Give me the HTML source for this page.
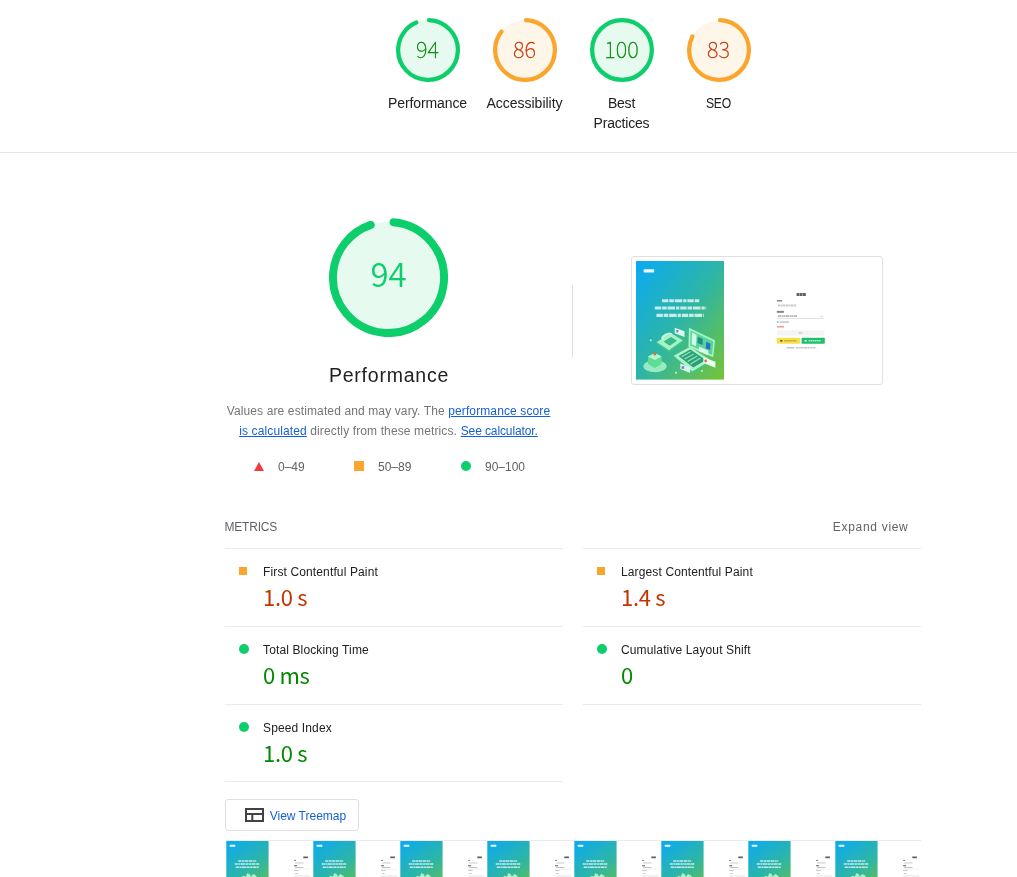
<!DOCTYPE html>
<html lang="en">
<head>
<meta charset="utf-8">
<title>Lighthouse Report</title>
<style>
*{box-sizing:border-box}
html,body{margin:0;padding:0;background:#fff}
body{width:1017px;height:877px;position:relative;overflow:hidden;font-family:"Liberation Sans","Noto Sans CJK KR",sans-serif;color:#212121;-webkit-font-smoothing:antialiased}
a{color:#1560d2;text-decoration:underline}
.abs{position:absolute;white-space:nowrap}
/* header gauges */
.scores{position:absolute;left:0;top:0;width:1017px;height:153px;border-bottom:1px solid #e4e4e4}
.g{position:absolute;top:18px;width:97px;text-align:center}
.g svg{display:block;margin:0 auto;width:64px;height:64px}
.g .num{position:absolute;left:0;top:-2px;width:97px;height:64px;line-height:64px;text-align:center;font-family:"Noto Sans CJK KR","DejaVu Sans Light",sans-serif;font-weight:100;font-size:22px;-webkit-text-stroke:.3px currentColor}
.g .lab{margin-top:11px;font-size:14px;line-height:20px;color:#212121;letter-spacing:-.2px}
.pass{color:#080}.avg{color:#c33300}
/* big gauge */
.big{position:absolute;left:329px;top:218px;width:119px;height:119px}
.big svg{display:block;width:119px;height:119px}
.big .num{position:absolute;left:0;top:0;width:119px;height:119px;line-height:111px;text-align:center;font-family:"Noto Sans CJK KR","DejaVu Sans Light",sans-serif;font-weight:350;font-size:33px;color:#0cce6b}
.title{left:229px;width:320px;top:361px;text-align:center;font-size:19.5px;line-height:28px;letter-spacing:.77px}
.desc{left:208.5px;width:360px;top:401px;text-align:center;font-size:12px;line-height:20px;color:#757575;white-space:normal;letter-spacing:.12px}
.legend{top:457.5px;font-size:12px;line-height:18px;color:#616161}
.sq{position:absolute;background:#fba52d}
.dot{position:absolute;background:#0cce6b;border-radius:50%}
.tri{position:absolute;width:0;height:0;border-left:5px solid transparent;border-right:5px solid transparent;border-bottom:9px solid #f03c3c}
.vline{position:absolute;left:572px;top:285px;width:1px;height:72px;background:#e0e0e0}
/* screenshot */
.shot{position:absolute;left:631px;top:256px;width:252px;height:129px;border:1px solid #e0e0e0;border-radius:3px;padding:4px;background:#fff}
.hr{position:absolute;height:1px;background:#ebebeb}
.mt{font-size:12px;line-height:18px;color:#212121;letter-spacing:.13px}
.mv{font-family:"Noto Sans CJK KR","Liberation Sans",sans-serif;font-size:22px;line-height:28px;letter-spacing:-.3px}
.btn{position:absolute;left:225px;top:799px;width:134px;height:32px;border:1px solid #e0e0e0;border-radius:3px;background:#fff}
.film{position:absolute;left:225.8px;top:840px;width:695px;height:37px;overflow:hidden;border-top:1px solid #ebebeb}
.film .f{position:absolute;top:0;width:87.1px;height:37px;background:#fff;overflow:hidden}

</style>
</head>
<body>
<div class="scores">
  <div class="g" style="left:379px">
    <svg viewBox="0 0 120 120"><circle cx="60" cy="60" r="56" fill="#0cce6b" fill-opacity=".1"/><circle cx="60" cy="60" r="56" fill="none" stroke="#0cce6b" stroke-width="8" stroke-linecap="round" stroke-dasharray="326.7 351.86" transform="rotate(-87.95 60 60)"/></svg>
    <div class="num pass">94</div><div class="lab" style="letter-spacing:-.1px">Performance</div>
  </div>
  <div class="g" style="left:476px">
    <svg viewBox="0 0 120 120"><circle cx="60" cy="60" r="56" fill="#fba52d" fill-opacity=".1"/><circle cx="60" cy="60" r="56" fill="none" stroke="#fba52d" stroke-width="8" stroke-linecap="round" stroke-dasharray="298.6 351.86" transform="rotate(-87.95 60 60)"/></svg>
    <div class="num avg">86</div><div class="lab" style="letter-spacing:0">Accessibility</div>
  </div>
  <div class="g" style="left:573px">
    <svg viewBox="0 0 120 120"><circle cx="60" cy="60" r="56" fill="#0cce6b" fill-opacity=".1"/><circle cx="60" cy="60" r="56" fill="none" stroke="#0cce6b" stroke-width="8"/></svg>
    <div class="num pass">100</div><div class="lab">Best<br>Practices</div>
  </div>
  <div class="g" style="left:670px">
    <svg viewBox="0 0 120 120"><circle cx="60" cy="60" r="56" fill="#fba52d" fill-opacity=".1"/><circle cx="60" cy="60" r="56" fill="none" stroke="#fba52d" stroke-width="8" stroke-linecap="round" stroke-dasharray="288 351.86" transform="rotate(-87.95 60 60)"/></svg>
    <div class="num avg">83</div><div class="lab"><span style="display:inline-block;transform:scaleX(.87)">SEO</span></div>
  </div>
</div>

<div class="big">
  <svg viewBox="0 0 120 120"><circle cx="60" cy="60" r="56" fill="#0cce6b" fill-opacity=".1"/><circle cx="60" cy="60" r="56" fill="none" stroke="#0cce6b" stroke-width="8" stroke-linecap="round" stroke-dasharray="328 351.86" transform="rotate(-84.8 60 60)"/></svg>
  <div class="num">94</div>
</div>
<div class="abs title">Performance</div>
<div class="abs desc">Values are estimated and may vary. The <a>performance score<br>is calculated</a> directly from these metrics.<a style="margin-left:3.7px;letter-spacing:-.11px">See calculator.</a></div>

<div class="tri" style="left:254px;top:461.5px"></div>
<div class="abs legend" style="left:278px">0–49</div>
<div class="sq" style="left:354px;top:461px;width:10px;height:10px"></div>
<div class="abs legend" style="left:378px">50–89</div>
<div class="dot" style="left:461px;top:461px;width:10px;height:10px"></div>
<div class="abs legend" style="left:485px">90–100</div>

<div class="vline"></div>
<div class="shot"><svg width="242" height="119" viewBox="0 0 242 119" style="display:block"><defs><linearGradient id="gp" x1="0" y1="0" x2="1" y2="1"><stop offset="0" stop-color="#0aaaf4"/><stop offset=".5" stop-color="#2db5a6"/><stop offset="1" stop-color="#76c434"/></linearGradient><filter id="bl" x="-5%" y="-5%" width="110%" height="110%"><feGaussianBlur stdDeviation=".35"/></filter><linearGradient id="gf" gradientUnits="userSpaceOnUse" x1="0" y1="0" x2="42.6" y2="58"><stop offset="0" stop-color="#0aaaf4"/><stop offset=".5" stop-color="#2db5a6"/><stop offset="1" stop-color="#76c434"/></linearGradient><filter id="bf" x="-5%" y="-5%" width="110%" height="110%"><feGaussianBlur stdDeviation=".3"/></filter></defs><rect width="242" height="119" fill="#fff"/><rect x="0" y="0" width="88" height="118.6" fill="url(#gp)"/>
<g filter="url(#bl)">
<rect x="7.6" y="8.2" width="10.6" height="3.3" rx=".8" fill="#fff" opacity=".92"/>
<path d="M26 39.7h37.2M18.8 47h51.4M20.4 54.4h47.4" stroke="#fff" stroke-width="3.1" stroke-dasharray="6.4 .9 4.6 .8 7.6 1 3.2 .9" opacity=".74"/>
<ellipse cx="19" cy="105.3" rx="11.6" ry="6" fill="#a9f5c8" opacity=".85"/>
<path d="M12 95.5l6.8-3.6 6.8 3.6v7.6l-6.8 3.8-6.8-3.8z" fill="#5fdc96"/>
<path d="M12 95.5l6.8-3.6 6.8 3.6-6.8 3.6z" fill="#b6f7cf"/>
<circle cx="18.8" cy="93" r="1.5" fill="#f2683c"/>
<path d="M20.4 81.2l14.8-9 11.8 7.4-14 9.8z" fill="#a4f5c6"/>
<path d="M21 81.2l12 8v1.6l-12-8z M33 89.2l13.4-9.6v1.6L33 90.8z" fill="#44c98a"/>
<path d="M27.5 80.5l7.5-4.6 6 3.8-7.3 5z" fill="#3bb98a"/>
<path d="M25 77.5c1-3.5 6-6.5 10.5-5.5l1.2 1.5c-4-.6-8.2 2-9.6 5.2z" fill="#c6fadb"/>
<path d="M38.7 66.7l9.8 3.6v5.8l-9.8-3.8z" fill="#d9f7ea"/>
<rect x="40.3" y="69" width="2" height="2.4" fill="#5b7fe0"/>
<path d="M37.4 95l16.6-9.2 21 13.8-18.6 11.2z" fill="#aaf6ca"/>
<path d="M38 95l18.4 15.4v1.8L38 96.6z M56.4 110.4l18-10.8v1.8l-18 10.8z" fill="#3fc487"/>
<path d="M42.5 95l11.8-6.4 15.6 10.4-12.6 7.6z" fill="#2c9e78"/>
<path d="M45 95.2l9.2-5 1.2.8-9.2 5.2zM48 97.6l9.4-5.2 1.2.8-9.4 5.4zM51 100l9.6-5.4 1.2.8-9.6 5.6zM54 102.4l9.8-5.6 1.2.8-9.8 5.8z" fill="#8ef0b6" opacity=".85"/>
<path d="M53 66.7l26 12.6-1.8 17-24.8-10.6z" fill="#a6f5c6"/>
<path d="M54.6 69.4l22.8 11-1.4 13.4-21.8-9.4z" fill="#57d49a"/>
<path d="M56 71.6l4.6 2.2-.6 11.4-4.4-1.9z" fill="#d4fbe4"/>
<path d="M61.8 75.8l5 2.3-.3 6-5-2.1z" fill="#1f8f86"/>
<path d="M70.2 80.7l4.2 2-.4 6.3-4.2-1.8z" fill="#2a6fc0"/>
<path d="M63 85.6l9.4 4.2-.3 4.4-9.4-4z" fill="#d9fbe8"/>
<path d="M67.4 96.2l12 4.6v6l-12-4.8z" fill="#eafcf1"/>
<circle cx="69.7" cy="100" r="1.4" fill="#f26a3a"/>
<path d="M44.3 102.5l9.8 4v5.6l-9.8-4.2z" fill="#d6f6ec"/>
<rect x="45.6" y="105.2" width="2.6" height="2.6" fill="#7a78e6"/>
<circle cx="14.8" cy="79.3" r="1" fill="#b8f7d2"/>
<circle cx="40" cy="111.8" r="1" fill="#c6fadb"/>
<circle cx="66" cy="110" r=".9" fill="#c6fadb"/>
</g><g filter="url(#bl)">
<path d="M160.6 33.4h9.2" stroke="#222" stroke-width="3" stroke-dasharray="2.8 .4" opacity=".72"/>
<rect x="140.9" y="39" width="5.2" height="1.6" fill="#333" opacity=".55"/>
<path d="M142 44.5h18" stroke="#b5b5b5" stroke-width="1.8" stroke-dasharray="2.4 .5 1.2 .4 3 .5" opacity=".7"/>
<rect x="140.9" y="49.9" width="7" height="1.9" fill="#333" opacity=".6"/>
<path d="M142 55.1h19" stroke="#8e8e8e" stroke-width="1.8" stroke-dasharray="3 .5 1.4 .4 2.2 .5" opacity=".65"/>
<rect x="140.9" y="57.3" width="47.3" height=".6" fill="#d0d0d0"/>
<path d="M184.6 54.6l1.2 1.2 1.2-1.2" fill="none" stroke="#999" stroke-width=".5"/>
<rect x="140.9" y="60.2" width="1.6" height="1.6" fill="#4fb7b0" opacity=".8"/>
<rect x="143.6" y="60.3" width="9.4" height="1.5" fill="#8a8a8a" opacity=".5"/>
<rect x="141" y="65" width="7" height="1.5" fill="#e5533d" opacity=".6"/>
<rect x="141" y="69.2" width="47.4" height="5.4" rx=".6" fill="#f4f4f4"/>
<rect x="162.8" y="71.2" width="3.6" height="1.4" fill="#c8c8c8"/>
<rect x="141" y="76.8" width="23" height="5.9" rx=".6" fill="#f7e04c"/>
<rect x="144.3" y="79" width="2" height="1.6" fill="#5a4a1c"/>
<path d="M148.3 79.8h12.5" stroke="#9a8530" stroke-width="1.5" stroke-dasharray="2 .4 1.2 .4" opacity=".6"/>
<rect x="165.6" y="76.8" width="23.2" height="5.9" rx=".6" fill="#1cc067"/>
<rect x="168.6" y="79" width="2" height="1.6" fill="#e8fff2"/>
<path d="M172.6 79.8h12.5" stroke="#e2fbec" stroke-width="1.5" stroke-dasharray="2 .4 1.2 .4" opacity=".75"/>
<rect x="150.5" y="85.9" width="7.6" height="1.6" fill="#8d93c4" opacity=".55"/>
<path d="M159.6 86.7h20.4" stroke="#8a8f9c" stroke-width="1.6" stroke-dasharray="3 .5 1.6 .4 2.4 .5" opacity=".5"/>
</g></svg></div><!--/shot-->

<div class="abs" style="left:224.5px;top:518px;font-size:12px;line-height:18px;color:#5f6368;letter-spacing:-.2px">METRICS</div>
<div class="abs" style="right:108.5px;top:518px;font-size:12px;line-height:18px;color:#5f6368;letter-spacing:.7px">Expand view</div>

<div class="hr" style="left:225px;top:548px;width:338px"></div>
<div class="hr" style="left:225px;top:626px;width:338px"></div>
<div class="hr" style="left:225px;top:704px;width:338px"></div>
<div class="hr" style="left:225px;top:781px;width:338px"></div>
<div class="hr" style="left:583px;top:548px;width:338px"></div>
<div class="hr" style="left:583px;top:626px;width:338px"></div>
<div class="hr" style="left:583px;top:704px;width:338px"></div>

<div class="sq" style="left:239px;top:567px;width:8px;height:8px"></div>
<div class="abs mt" style="left:263px;top:563px">First Contentful Paint</div>
<div class="abs mv avg" style="left:263px;top:582.3px">1.0 s</div>

<div class="dot" style="left:239px;top:644px;width:10px;height:10px"></div>
<div class="abs mt" style="left:263px;top:641px">Total Blocking Time</div>
<div class="abs mv pass" style="left:263px;top:660.3px">0 ms</div>

<div class="dot" style="left:239px;top:722px;width:10px;height:10px"></div>
<div class="abs mt" style="left:263px;top:719px">Speed Index</div>
<div class="abs mv pass" style="left:263px;top:738.3px">1.0 s</div>

<div class="sq" style="left:597px;top:567px;width:8px;height:8px"></div>
<div class="abs mt" style="left:621px;top:563px">Largest Contentful Paint</div>
<div class="abs mv avg" style="left:621px;top:582.3px">1.4 s</div>

<div class="dot" style="left:597px;top:644px;width:10px;height:10px"></div>
<div class="abs mt" style="left:621px;top:641px">Cumulative Layout Shift</div>
<div class="abs mv pass" style="left:621px;top:660.3px">0</div>

<div class="btn">
  <svg style="position:absolute;left:19px;top:8px" width="19" height="14" viewBox="0 0 19 14"><path d="M1 1h17v12H1zM1 6h17M7.3 6v7" fill="none" stroke="#424242" stroke-width="2"/></svg>
  <a class="abs" style="left:43.7px;top:6.8px;font-size:12px;line-height:18px;text-decoration:none">View Treemap</a>
</div>

<div class="film">
<div class="f" style="left:0.0px"><svg width="87.1" height="37" viewBox="0 0 87.1 37" style="display:block"><rect x=".3" y="0" width="42.3" height="37" fill="url(#gf)"/><g filter="url(#bf)"><rect x="3.8" y="3.8" width="5.4" height="2" rx=".4" fill="#fff" opacity=".9"/><path d="M12.2 20h18M8.7 22.9h25.1M9.7 26.2h23.1" stroke="#fff" stroke-width="1.5" stroke-dasharray="3.2 .5 2.1 .4 4 .5" opacity=".72"/><path d="M14.6 37l3-2.2 2.2 1 1.6-3.8 2.6 1.4.8 2.4 2.4-2.8 2.8 1.6 1.4 2.4z" fill="#b9f8d2" opacity=".9"/><rect x="77.3" y="15.5" width="4.6" height="1.7" fill="#333" opacity=".8"/><rect x="68.1" y="18.9" width="2" height="1" fill="#444" opacity=".7"/><rect x="69.1" y="21.4" width="8.4" height="1.1" fill="#bbb" opacity=".7"/><rect x="68.1" y="24.1" width="3" height="1.2" fill="#444" opacity=".75"/><rect x="69.1" y="26" width="8.4" height="1.1" fill="#aaa" opacity=".7"/><rect x="68.1" y="27.9" width="16.3" height=".4" fill="#ddd"/><rect x="68.1" y="29" width="4.5" height="1" fill="#9aa" opacity=".6"/><rect x="69.1" y="32" width="2.5" height="1" fill="#e66" opacity=".5"/><rect x="68.1" y="33.9" width="16.3" height="3" fill="#f1f1f1"/></g></svg></div>
<div class="f" style="left:87.1px"><svg width="87.1" height="37" viewBox="0 0 87.1 37" style="display:block"><rect x=".3" y="0" width="42.3" height="37" fill="url(#gf)"/><g filter="url(#bf)"><rect x="3.8" y="3.8" width="5.4" height="2" rx=".4" fill="#fff" opacity=".9"/><path d="M12.2 20h18M8.7 22.9h25.1M9.7 26.2h23.1" stroke="#fff" stroke-width="1.5" stroke-dasharray="3.2 .5 2.1 .4 4 .5" opacity=".72"/><path d="M14.6 37l3-2.2 2.2 1 1.6-3.8 2.6 1.4.8 2.4 2.4-2.8 2.8 1.6 1.4 2.4z" fill="#b9f8d2" opacity=".9"/><rect x="77.3" y="15.5" width="4.6" height="1.7" fill="#333" opacity=".8"/><rect x="68.1" y="18.9" width="2" height="1" fill="#444" opacity=".7"/><rect x="69.1" y="21.4" width="8.4" height="1.1" fill="#bbb" opacity=".7"/><rect x="68.1" y="24.1" width="3" height="1.2" fill="#444" opacity=".75"/><rect x="69.1" y="26" width="8.4" height="1.1" fill="#aaa" opacity=".7"/><rect x="68.1" y="27.9" width="16.3" height=".4" fill="#ddd"/><rect x="68.1" y="29" width="4.5" height="1" fill="#9aa" opacity=".6"/><rect x="69.1" y="32" width="2.5" height="1" fill="#e66" opacity=".5"/><rect x="68.1" y="33.9" width="16.3" height="3" fill="#f1f1f1"/></g></svg></div>
<div class="f" style="left:174.2px"><svg width="87.1" height="37" viewBox="0 0 87.1 37" style="display:block"><rect x=".3" y="0" width="42.3" height="37" fill="url(#gf)"/><g filter="url(#bf)"><rect x="3.8" y="3.8" width="5.4" height="2" rx=".4" fill="#fff" opacity=".9"/><path d="M12.2 20h18M8.7 22.9h25.1M9.7 26.2h23.1" stroke="#fff" stroke-width="1.5" stroke-dasharray="3.2 .5 2.1 .4 4 .5" opacity=".72"/><path d="M14.6 37l3-2.2 2.2 1 1.6-3.8 2.6 1.4.8 2.4 2.4-2.8 2.8 1.6 1.4 2.4z" fill="#b9f8d2" opacity=".9"/><rect x="77.3" y="15.5" width="4.6" height="1.7" fill="#333" opacity=".8"/><rect x="68.1" y="18.9" width="2" height="1" fill="#444" opacity=".7"/><rect x="69.1" y="21.4" width="8.4" height="1.1" fill="#bbb" opacity=".7"/><rect x="68.1" y="24.1" width="3" height="1.2" fill="#444" opacity=".75"/><rect x="69.1" y="26" width="8.4" height="1.1" fill="#aaa" opacity=".7"/><rect x="68.1" y="27.9" width="16.3" height=".4" fill="#ddd"/><rect x="68.1" y="29" width="4.5" height="1" fill="#9aa" opacity=".6"/><rect x="69.1" y="32" width="2.5" height="1" fill="#e66" opacity=".5"/><rect x="68.1" y="33.9" width="16.3" height="3" fill="#f1f1f1"/></g></svg></div>
<div class="f" style="left:261.3px"><svg width="87.1" height="37" viewBox="0 0 87.1 37" style="display:block"><rect x=".3" y="0" width="42.3" height="37" fill="url(#gf)"/><g filter="url(#bf)"><rect x="3.8" y="3.8" width="5.4" height="2" rx=".4" fill="#fff" opacity=".9"/><path d="M12.2 20h18M8.7 22.9h25.1M9.7 26.2h23.1" stroke="#fff" stroke-width="1.5" stroke-dasharray="3.2 .5 2.1 .4 4 .5" opacity=".72"/><path d="M14.6 37l3-2.2 2.2 1 1.6-3.8 2.6 1.4.8 2.4 2.4-2.8 2.8 1.6 1.4 2.4z" fill="#b9f8d2" opacity=".9"/><rect x="77.3" y="15.5" width="4.6" height="1.7" fill="#333" opacity=".8"/><rect x="68.1" y="18.9" width="2" height="1" fill="#444" opacity=".7"/><rect x="69.1" y="21.4" width="8.4" height="1.1" fill="#bbb" opacity=".7"/><rect x="68.1" y="24.1" width="3" height="1.2" fill="#444" opacity=".75"/><rect x="69.1" y="26" width="8.4" height="1.1" fill="#aaa" opacity=".7"/><rect x="68.1" y="27.9" width="16.3" height=".4" fill="#ddd"/><rect x="68.1" y="29" width="4.5" height="1" fill="#9aa" opacity=".6"/><rect x="69.1" y="32" width="2.5" height="1" fill="#e66" opacity=".5"/><rect x="68.1" y="33.9" width="16.3" height="3" fill="#f1f1f1"/></g></svg></div>
<div class="f" style="left:348.4px"><svg width="87.1" height="37" viewBox="0 0 87.1 37" style="display:block"><rect x=".3" y="0" width="42.3" height="37" fill="url(#gf)"/><g filter="url(#bf)"><rect x="3.8" y="3.8" width="5.4" height="2" rx=".4" fill="#fff" opacity=".9"/><path d="M12.2 20h18M8.7 22.9h25.1M9.7 26.2h23.1" stroke="#fff" stroke-width="1.5" stroke-dasharray="3.2 .5 2.1 .4 4 .5" opacity=".72"/><path d="M14.6 37l3-2.2 2.2 1 1.6-3.8 2.6 1.4.8 2.4 2.4-2.8 2.8 1.6 1.4 2.4z" fill="#b9f8d2" opacity=".9"/><rect x="77.3" y="15.5" width="4.6" height="1.7" fill="#333" opacity=".8"/><rect x="68.1" y="18.9" width="2" height="1" fill="#444" opacity=".7"/><rect x="69.1" y="21.4" width="8.4" height="1.1" fill="#bbb" opacity=".7"/><rect x="68.1" y="24.1" width="3" height="1.2" fill="#444" opacity=".75"/><rect x="69.1" y="26" width="8.4" height="1.1" fill="#aaa" opacity=".7"/><rect x="68.1" y="27.9" width="16.3" height=".4" fill="#ddd"/><rect x="68.1" y="29" width="4.5" height="1" fill="#9aa" opacity=".6"/><rect x="69.1" y="32" width="2.5" height="1" fill="#e66" opacity=".5"/><rect x="68.1" y="33.9" width="16.3" height="3" fill="#f1f1f1"/></g></svg></div>
<div class="f" style="left:435.5px"><svg width="87.1" height="37" viewBox="0 0 87.1 37" style="display:block"><rect x=".3" y="0" width="42.3" height="37" fill="url(#gf)"/><g filter="url(#bf)"><rect x="3.8" y="3.8" width="5.4" height="2" rx=".4" fill="#fff" opacity=".9"/><path d="M12.2 20h18M8.7 22.9h25.1M9.7 26.2h23.1" stroke="#fff" stroke-width="1.5" stroke-dasharray="3.2 .5 2.1 .4 4 .5" opacity=".72"/><path d="M14.6 37l3-2.2 2.2 1 1.6-3.8 2.6 1.4.8 2.4 2.4-2.8 2.8 1.6 1.4 2.4z" fill="#b9f8d2" opacity=".9"/><rect x="77.3" y="15.5" width="4.6" height="1.7" fill="#333" opacity=".8"/><rect x="68.1" y="18.9" width="2" height="1" fill="#444" opacity=".7"/><rect x="69.1" y="21.4" width="8.4" height="1.1" fill="#bbb" opacity=".7"/><rect x="68.1" y="24.1" width="3" height="1.2" fill="#444" opacity=".75"/><rect x="69.1" y="26" width="8.4" height="1.1" fill="#aaa" opacity=".7"/><rect x="68.1" y="27.9" width="16.3" height=".4" fill="#ddd"/><rect x="68.1" y="29" width="4.5" height="1" fill="#9aa" opacity=".6"/><rect x="69.1" y="32" width="2.5" height="1" fill="#e66" opacity=".5"/><rect x="68.1" y="33.9" width="16.3" height="3" fill="#f1f1f1"/></g></svg></div>
<div class="f" style="left:522.6px"><svg width="87.1" height="37" viewBox="0 0 87.1 37" style="display:block"><rect x=".3" y="0" width="42.3" height="37" fill="url(#gf)"/><g filter="url(#bf)"><rect x="3.8" y="3.8" width="5.4" height="2" rx=".4" fill="#fff" opacity=".9"/><path d="M12.2 20h18M8.7 22.9h25.1M9.7 26.2h23.1" stroke="#fff" stroke-width="1.5" stroke-dasharray="3.2 .5 2.1 .4 4 .5" opacity=".72"/><path d="M14.6 37l3-2.2 2.2 1 1.6-3.8 2.6 1.4.8 2.4 2.4-2.8 2.8 1.6 1.4 2.4z" fill="#b9f8d2" opacity=".9"/><rect x="77.3" y="15.5" width="4.6" height="1.7" fill="#333" opacity=".8"/><rect x="68.1" y="18.9" width="2" height="1" fill="#444" opacity=".7"/><rect x="69.1" y="21.4" width="8.4" height="1.1" fill="#bbb" opacity=".7"/><rect x="68.1" y="24.1" width="3" height="1.2" fill="#444" opacity=".75"/><rect x="69.1" y="26" width="8.4" height="1.1" fill="#aaa" opacity=".7"/><rect x="68.1" y="27.9" width="16.3" height=".4" fill="#ddd"/><rect x="68.1" y="29" width="4.5" height="1" fill="#9aa" opacity=".6"/><rect x="69.1" y="32" width="2.5" height="1" fill="#e66" opacity=".5"/><rect x="68.1" y="33.9" width="16.3" height="3" fill="#f1f1f1"/></g></svg></div>
<div class="f" style="left:609.7px"><svg width="87.1" height="37" viewBox="0 0 87.1 37" style="display:block"><rect x=".3" y="0" width="42.3" height="37" fill="url(#gf)"/><g filter="url(#bf)"><rect x="3.8" y="3.8" width="5.4" height="2" rx=".4" fill="#fff" opacity=".9"/><path d="M12.2 20h18M8.7 22.9h25.1M9.7 26.2h23.1" stroke="#fff" stroke-width="1.5" stroke-dasharray="3.2 .5 2.1 .4 4 .5" opacity=".72"/><path d="M14.6 37l3-2.2 2.2 1 1.6-3.8 2.6 1.4.8 2.4 2.4-2.8 2.8 1.6 1.4 2.4z" fill="#b9f8d2" opacity=".9"/><rect x="77.3" y="15.5" width="4.6" height="1.7" fill="#333" opacity=".8"/><rect x="68.1" y="18.9" width="2" height="1" fill="#444" opacity=".7"/><rect x="69.1" y="21.4" width="8.4" height="1.1" fill="#bbb" opacity=".7"/><rect x="68.1" y="24.1" width="3" height="1.2" fill="#444" opacity=".75"/><rect x="69.1" y="26" width="8.4" height="1.1" fill="#aaa" opacity=".7"/><rect x="68.1" y="27.9" width="16.3" height=".4" fill="#ddd"/><rect x="68.1" y="29" width="4.5" height="1" fill="#9aa" opacity=".6"/><rect x="69.1" y="32" width="2.5" height="1" fill="#e66" opacity=".5"/><rect x="68.1" y="33.9" width="16.3" height="3" fill="#f1f1f1"/></g></svg></div>
</div><!--/film-->


</body>
</html>
